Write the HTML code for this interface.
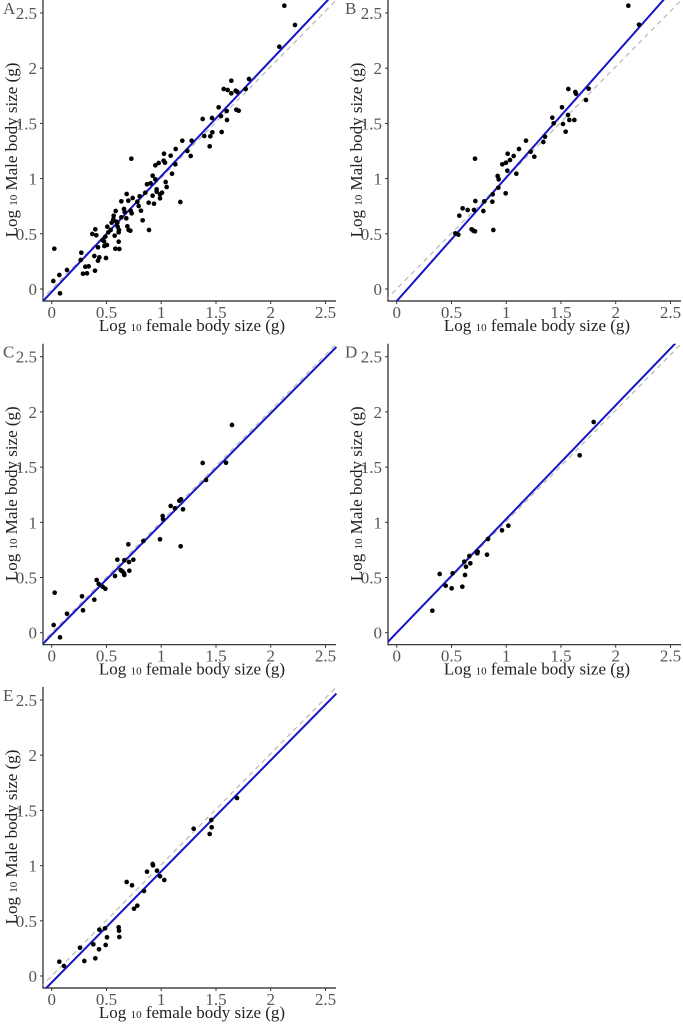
<!DOCTYPE html>
<html><head><meta charset="utf-8"><style>
html,body{margin:0;padding:0;background:#fff}
svg{display:block}
.tk{font-family:"Liberation Serif",serif;font-size:17px;fill:#555}
.tt{font-family:"Liberation Serif",serif;font-size:17px;fill:#222}
.sub{font-size:11px}
</style></head><body>
<svg width="683" height="1024" viewBox="0 0 683 1024" xmlns="http://www.w3.org/2000/svg">
<defs>
<clipPath id="pc"><rect x="43" y="0" width="294" height="301"/></clipPath>
<g id="frame">
  <line x1="43" y1="0" x2="43" y2="301.5" stroke="#222" stroke-width="1.2"/>
  <line x1="42.5" y1="301" x2="336" y2="301" stroke="#222" stroke-width="1.2"/>
  <g stroke="#333" stroke-width="1">
    <line x1="51.7" y1="301" x2="51.7" y2="304"/><line x1="106.5" y1="301" x2="106.5" y2="304"/>
    <line x1="161.2" y1="301" x2="161.2" y2="304"/><line x1="216" y1="301" x2="216" y2="304"/>
    <line x1="270.7" y1="301" x2="270.7" y2="304"/><line x1="325.5" y1="301" x2="325.5" y2="304"/>
    <line x1="40" y1="289" x2="43" y2="289"/><line x1="40" y1="233.8" x2="43" y2="233.8"/>
    <line x1="40" y1="178.6" x2="43" y2="178.6"/><line x1="40" y1="123.4" x2="43" y2="123.4"/>
    <line x1="40" y1="68.2" x2="43" y2="68.2"/><line x1="40" y1="13" x2="43" y2="13"/>
  </g>
  <g class="tk" text-anchor="middle">
    <text x="51.7" y="318">0</text><text x="106.5" y="318">0.5</text><text x="161.2" y="318">1</text>
    <text x="216" y="318">1.5</text><text x="270.7" y="318">2</text><text x="325.5" y="318">2.5</text>
  </g>
  <g class="tk" text-anchor="end">
    <text x="37" y="295">0</text><text x="37" y="239.8">0.5</text><text x="37" y="184.6">1</text>
    <text x="37" y="129.4">1.5</text><text x="37" y="74.2">2</text><text x="37" y="19">2.5</text>
  </g>
  <text class="tt" x="192" y="331" text-anchor="middle">Log <tspan class="sub">10</tspan> female body size (g)</text>
  <text class="tt" transform="translate(17,150) rotate(-90)" text-anchor="middle">Log <tspan class="sub">10</tspan> Male body size (g)</text>
  <line x1="40.75" y1="300" x2="336.4" y2="0" stroke="#b8b8b8" stroke-width="1.2" stroke-dasharray="5,4" clip-path="url(#pc)"/>
</g>
</defs>

<g>
<use href="#frame"/>
<text class="tk" x="3" y="14">A</text>
<line x1="40.75" y1="303.5" x2="336.4" y2="-8.97" stroke="#1515c8" stroke-width="2" clip-path="url(#pc)"/>
</g>
<g transform="translate(345,0)">
<use href="#frame"/>
<text class="tk" x="0" y="14">B</text>
<line x1="40.75" y1="313.5" x2="336.4" y2="-20.3" stroke="#1515c8" stroke-width="2" clip-path="url(#pc)"/>
</g>
<g transform="translate(0,343.7)">
<use href="#frame"/>
<text class="tk" x="3" y="14">C</text>
<line x1="40.75" y1="302.2" x2="336.4" y2="3.2" stroke="#1515c8" stroke-width="2" clip-path="url(#pc)"/>
</g>
<g transform="translate(345,343.7)">
<use href="#frame"/>
<text class="tk" x="0" y="14">D</text>
<line x1="40.75" y1="300.4" x2="336.4" y2="-6.6" stroke="#1515c8" stroke-width="2" clip-path="url(#pc)"/>
</g>
<g transform="translate(0,687)">
<use href="#frame"/>
<text class="tk" x="3" y="14">E</text>
<line x1="40.75" y1="306.6" x2="336.4" y2="6.6" stroke="#1515c8" stroke-width="2" clip-path="url(#pc)"/>
</g>

<g transform="scale(0.33333)" fill="#000">
<circle cx="853" cy="17" r="7"/><circle cx="885" cy="75" r="7"/><circle cx="838" cy="140" r="7"/><circle cx="747" cy="237" r="7"/><circle cx="694" cy="242" r="7"/><circle cx="671" cy="267" r="7"/><circle cx="707" cy="272" r="7"/><circle cx="737" cy="267" r="7"/><circle cx="683" cy="270" r="7"/><circle cx="694" cy="280" r="7"/><circle cx="712" cy="276" r="7"/><circle cx="680" cy="333" r="7"/><circle cx="709" cy="329" r="7"/><circle cx="716" cy="332" r="7"/><circle cx="656" cy="322" r="7"/><circle cx="663" cy="348" r="7"/><circle cx="636" cy="354" r="7"/><circle cx="681" cy="360" r="7"/><circle cx="665" cy="396" r="7"/><circle cx="637" cy="397" r="7"/><circle cx="631" cy="409" r="7"/><circle cx="629" cy="439" r="7"/><circle cx="608" cy="357" r="7"/><circle cx="575" cy="422" r="7"/><circle cx="613" cy="408" r="7"/><circle cx="547" cy="422" r="7"/><circle cx="562" cy="453" r="7"/><circle cx="572" cy="468" r="7"/><circle cx="527" cy="447" r="7"/><circle cx="512" cy="467" r="7"/><circle cx="492" cy="461" r="7"/><circle cx="466" cy="496" r="7"/><circle cx="491" cy="482" r="7"/><circle cx="495" cy="488" r="7"/><circle cx="476" cy="489" r="7"/><circle cx="526" cy="493" r="7"/><circle cx="516" cy="521" r="7"/><circle cx="497" cy="546" r="7"/><circle cx="486" cy="578" r="7"/><circle cx="480" cy="583" r="7"/><circle cx="466" cy="538" r="7"/><circle cx="470" cy="568" r="7"/><circle cx="458" cy="527" r="7"/><circle cx="452" cy="550" r="7"/><circle cx="441" cy="553" r="7"/><circle cx="458" cy="587" r="7"/><circle cx="446" cy="608" r="7"/><circle cx="436" cy="578" r="7"/><circle cx="480" cy="595" r="7"/><circle cx="541" cy="606" r="7"/><circle cx="394" cy="476" r="7"/><circle cx="380" cy="582" r="7"/><circle cx="385" cy="602" r="7"/><circle cx="398" cy="594" r="7"/><circle cx="374" cy="636" r="7"/><circle cx="395" cy="640" r="7"/><circle cx="379" cy="655" r="7"/><circle cx="364" cy="652" r="7"/><circle cx="352" cy="668" r="7"/><circle cx="356" cy="697" r="7"/><circle cx="386" cy="690" r="7"/><circle cx="382" cy="679" r="7"/><circle cx="391" cy="692" r="7"/><circle cx="416" cy="618" r="7"/><circle cx="412" cy="605" r="7"/><circle cx="423" cy="632" r="7"/><circle cx="428" cy="661" r="7"/><circle cx="419" cy="589" r="7"/><circle cx="392" cy="632" r="7"/><circle cx="364" cy="604" r="7"/><circle cx="372" cy="627" r="7"/><circle cx="347" cy="633" r="7"/><circle cx="340" cy="658" r="7"/><circle cx="341" cy="647" r="7"/><circle cx="353" cy="680" r="7"/><circle cx="332" cy="690" r="7"/><circle cx="325" cy="697" r="7"/><circle cx="344" cy="707" r="7"/><circle cx="357" cy="690" r="7"/><circle cx="356" cy="725" r="7"/><circle cx="358" cy="747" r="7"/><circle cx="346" cy="746" r="7"/><circle cx="349" cy="665" r="7"/><circle cx="335" cy="668" r="7"/><circle cx="322" cy="680" r="7"/><circle cx="316" cy="710" r="7"/><circle cx="321" cy="735" r="7"/><circle cx="308" cy="720" r="7"/><circle cx="286" cy="688" r="7"/><circle cx="289" cy="706" r="7"/><circle cx="313" cy="738" r="7"/><circle cx="294" cy="742" r="7"/><circle cx="312" cy="724" r="7"/><circle cx="318" cy="774" r="7"/><circle cx="298" cy="772" r="7"/><circle cx="277" cy="702" r="7"/><circle cx="283" cy="768" r="7"/><circle cx="285" cy="812" r="7"/><circle cx="266" cy="799" r="7"/><circle cx="261" cy="820" r="7"/><circle cx="256" cy="800" r="7"/><circle cx="244" cy="758" r="7"/><circle cx="242" cy="780" r="7"/><circle cx="249" cy="821" r="7"/><circle cx="163" cy="746" r="7"/><circle cx="160" cy="843" r="7"/><circle cx="178" cy="825" r="7"/><circle cx="201" cy="810" r="7"/><circle cx="180" cy="880" r="7"/><circle cx="447" cy="690" r="7"/><circle cx="294" cy="782" r="7"/><circle cx="462" cy="611" r="7"/><circle cx="470" cy="575" r="7"/><circle cx="500" cy="561" r="7"/>
</g>
<g transform="translate(340,0) scale(0.33333)" fill="#000">
<circle cx="865" cy="17" r="7"/><circle cx="897" cy="74" r="7"/><circle cx="685" cy="267" r="7"/><circle cx="706" cy="276" r="7"/><circle cx="746" cy="266" r="7"/><circle cx="708" cy="281" r="7"/><circle cx="738" cy="300" r="7"/><circle cx="666" cy="322" r="7"/><circle cx="637" cy="353" r="7"/><circle cx="684" cy="345" r="7"/><circle cx="641" cy="370" r="7"/><circle cx="688" cy="360" r="7"/><circle cx="703" cy="360" r="7"/><circle cx="669" cy="372" r="7"/><circle cx="677" cy="395" r="7"/><circle cx="558" cy="422" r="7"/><circle cx="537" cy="447" r="7"/><circle cx="503" cy="461" r="7"/><circle cx="521" cy="468" r="7"/><circle cx="572" cy="455" r="7"/><circle cx="583" cy="470" r="7"/><circle cx="615" cy="410" r="7"/><circle cx="610" cy="426" r="7"/><circle cx="498" cy="488" r="7"/><circle cx="510" cy="480" r="7"/><circle cx="487" cy="493" r="7"/><circle cx="476" cy="538" r="7"/><circle cx="502" cy="512" r="7"/><circle cx="529" cy="521" r="7"/><circle cx="475" cy="563" r="7"/><circle cx="497" cy="580" r="7"/><circle cx="458" cy="583" r="7"/><circle cx="473" cy="528" r="7"/><circle cx="433" cy="604" r="7"/><circle cx="405" cy="476" r="7"/><circle cx="406" cy="603" r="7"/><circle cx="430" cy="633" r="7"/><circle cx="457" cy="605" r="7"/><circle cx="402" cy="630" r="7"/><circle cx="383" cy="630" r="7"/><circle cx="358" cy="647" r="7"/><circle cx="400" cy="692" r="7"/><circle cx="395" cy="688" r="7"/><circle cx="405" cy="694" r="7"/><circle cx="460" cy="690" r="7"/><circle cx="355" cy="704" r="7"/><circle cx="346" cy="700" r="7"/><circle cx="368" cy="625" r="7"/>
</g>
<g transform="translate(0,340) scale(0.33333)" fill="#000">
<circle cx="696" cy="255" r="7"/><circle cx="608" cy="369" r="7"/><circle cx="678" cy="368" r="7"/><circle cx="618" cy="420" r="7"/><circle cx="543" cy="478" r="7"/><circle cx="538" cy="482" r="7"/><circle cx="549" cy="508" r="7"/><circle cx="512" cy="498" r="7"/><circle cx="525" cy="505" r="7"/><circle cx="488" cy="528" r="7"/><circle cx="489" cy="537" r="7"/><circle cx="480" cy="598" r="7"/><circle cx="542" cy="619" r="7"/><circle cx="385" cy="613" r="7"/><circle cx="352" cy="659" r="7"/><circle cx="373" cy="661" r="7"/><circle cx="400" cy="659" r="7"/><circle cx="387" cy="666" r="7"/><circle cx="362" cy="690" r="7"/><circle cx="367" cy="694" r="7"/><circle cx="372" cy="700" r="7"/><circle cx="373" cy="705" r="7"/><circle cx="388" cy="692" r="7"/><circle cx="345" cy="708" r="7"/><circle cx="290" cy="720" r="7"/><circle cx="296" cy="732" r="7"/><circle cx="308" cy="740" r="7"/><circle cx="316" cy="746" r="7"/><circle cx="246" cy="769" r="7"/><circle cx="283" cy="779" r="7"/><circle cx="249" cy="811" r="7"/><circle cx="201" cy="821" r="7"/><circle cx="164" cy="758" r="7"/><circle cx="161" cy="855" r="7"/><circle cx="180" cy="892" r="7"/><circle cx="430" cy="603" r="7"/>
</g>
<g transform="translate(340,340) scale(0.33333)" fill="#000">
<circle cx="761" cy="246" r="7"/><circle cx="719" cy="346" r="7"/><circle cx="505" cy="557" r="7"/><circle cx="486" cy="571" r="7"/><circle cx="444" cy="597" r="7"/><circle cx="412" cy="640" r="7"/><circle cx="413" cy="635" r="7"/><circle cx="441" cy="644" r="7"/><circle cx="388" cy="648" r="7"/><circle cx="391" cy="670" r="7"/><circle cx="378" cy="680" r="7"/><circle cx="373" cy="665" r="7"/><circle cx="375" cy="705" r="7"/><circle cx="367" cy="740" r="7"/><circle cx="335" cy="745" r="7"/><circle cx="299" cy="702" r="7"/><circle cx="317" cy="737" r="7"/><circle cx="277" cy="812" r="7"/><circle cx="338" cy="700" r="7"/>
</g>
<g transform="translate(0,684) scale(0.33333)" fill="#000">
<circle cx="711" cy="342" r="7"/><circle cx="634" cy="408" r="7"/><circle cx="581" cy="434" r="7"/><circle cx="635" cy="430" r="7"/><circle cx="629" cy="450" r="7"/><circle cx="458" cy="540" r="7"/><circle cx="459" cy="544" r="7"/><circle cx="471" cy="560" r="7"/><circle cx="441" cy="563" r="7"/><circle cx="480" cy="577" r="7"/><circle cx="493" cy="588" r="7"/><circle cx="380" cy="594" r="7"/><circle cx="396" cy="604" r="7"/><circle cx="432" cy="621" r="7"/><circle cx="412" cy="665" r="7"/><circle cx="402" cy="674" r="7"/><circle cx="356" cy="730" r="7"/><circle cx="357" cy="740" r="7"/><circle cx="358" cy="759" r="7"/><circle cx="321" cy="760" r="7"/><circle cx="315" cy="733" r="7"/><circle cx="298" cy="737" r="7"/><circle cx="317" cy="783" r="7"/><circle cx="297" cy="796" r="7"/><circle cx="280" cy="781" r="7"/><circle cx="286" cy="823" r="7"/><circle cx="240" cy="791" r="7"/><circle cx="253" cy="831" r="7"/><circle cx="178" cy="833" r="7"/><circle cx="192" cy="846" r="7"/>
</g>
</svg>
</body></html>
